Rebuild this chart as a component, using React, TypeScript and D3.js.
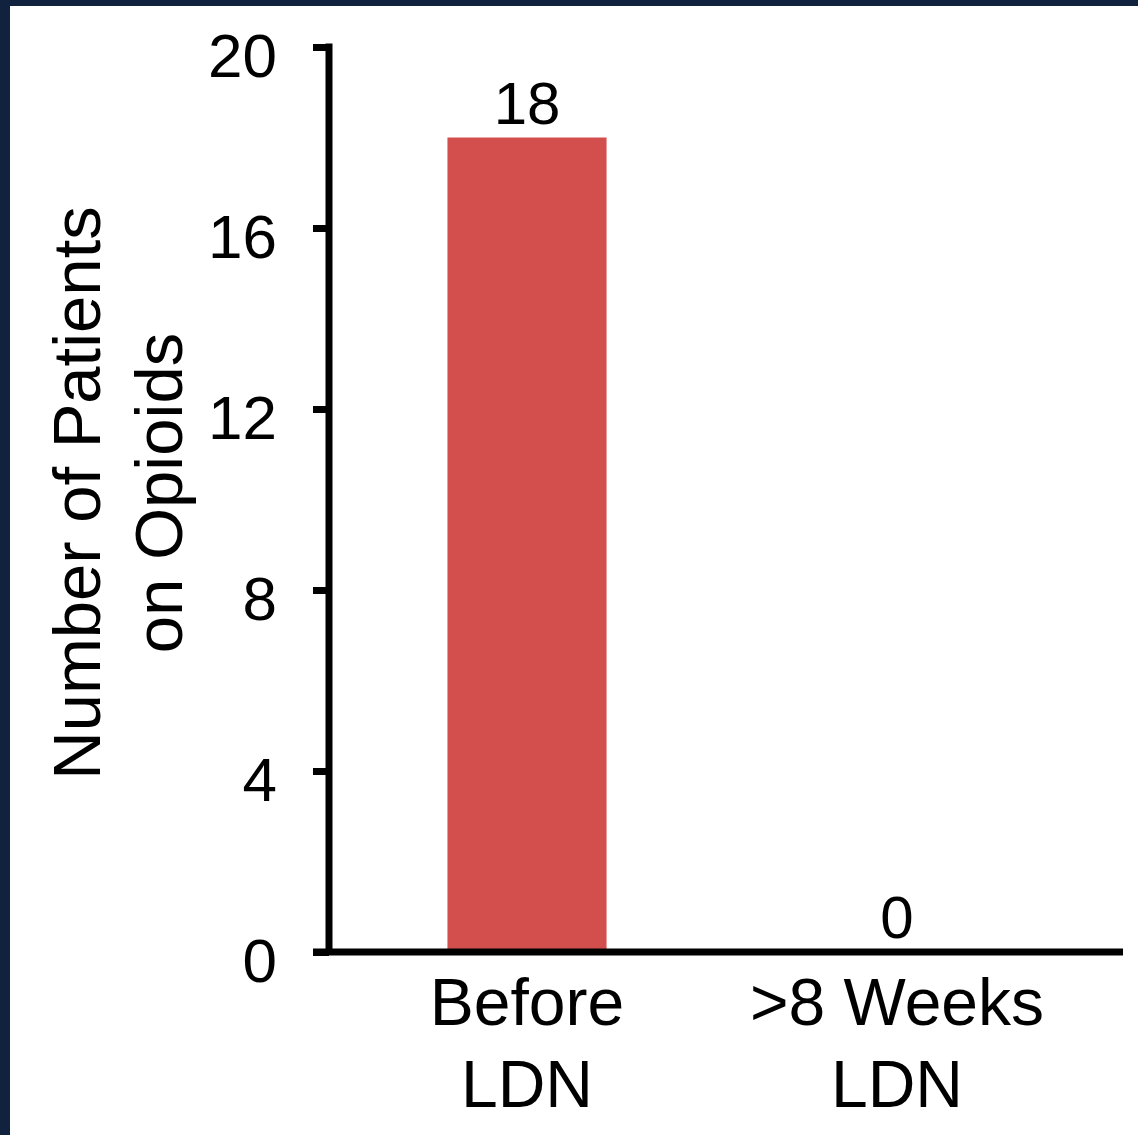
import { useEffect, useRef } from 'react';
import * as d3 from 'd3';

const categories = [['Before', 'LDN'], ['>8 Weeks', 'LDN']];
const values = [18, 0];
const yTicks = [0, 4, 8, 12, 16, 20];
const yTitle = ['Number of Patients', 'on Opioids'];

export default function App() {
  const svgRef = useRef<SVGSVGElement>(null);

  useEffect(() => {
    document.body.style.margin = '0';
    if (!svgRef.current) return;

    const width = 1138;
    const height = 1135;
    const font = 'Liberation Sans, Arial, Helvetica, sans-serif';

    const svg = d3.select(svgRef.current);
    svg.selectAll('*').remove();
    svg.attr('width', width).attr('height', height).style('display', 'block');

    // navy frame on top and left, white panel
    svg.append('rect').attr('width', width).attr('height', height).attr('fill', '#10223e');
    svg.append('rect').attr('x', 10).attr('y', 6).attr('width', width - 10).attr('height', height - 6).attr('fill', '#fff');

    const axisX = 329;
    const axisRight = 1123;

    const y = d3.scaleLinear().domain([0, 20]).range([952, 47]);
    const x = d3
      .scaleBand<number>()
      .domain(values.map((_, i) => i))
      .range([342, 1082])
      .paddingInner(0.57)
      .paddingOuter(0.285);

    const g = svg.append('g').style('font-family', font);

    // bars
    g.selectAll('.bar')
      .data(values)
      .join('rect')
      .attr('class', 'bar')
      .attr('fill', '#d34f4d')
      .attr('x', (_, i) => x(i)!)
      .attr('y', (d) => y(d))
      .attr('width', x.bandwidth())
      .attr('height', (d) => y(0) - y(d));

    // value labels
    g.selectAll('.val')
      .data(values)
      .join('text')
      .attr('class', 'val')
      .attr('x', (_, i) => x(i)! + x.bandwidth() / 2)
      .attr('y', (d) => y(d) - 14)
      .attr('text-anchor', 'middle')
      .attr('font-size', 60)
      .attr('fill', '#000')
      .text((d) => d);

    // y axis
    const yAxis = g
      .append('g')
      .attr('transform', `translate(${axisX},0)`)
      .call(d3.axisLeft(y).tickValues(yTicks).tickSize(16).tickSizeOuter(0).tickPadding(36));
    yAxis.select('.domain').remove();
    yAxis.selectAll('.tick line').attr('stroke', '#000').attr('stroke-width', 7);
    yAxis
      .selectAll('.tick text')
      .attr('font-size', 62)
      .attr('font-family', font)
      .attr('fill', '#000')
      .attr('dy', '0.47em');
    g.append('line')
      .attr('x1', axisX)
      .attr('x2', axisX)
      .attr('y1', y(20) - 3.5)
      .attr('y2', y(0))
      .attr('stroke', '#000')
      .attr('stroke-width', 7);

    // x axis baseline
    g.append('line')
      .attr('x1', axisX - 16)
      .attr('x2', axisRight)
      .attr('y1', y(0))
      .attr('y2', y(0))
      .attr('stroke', '#000')
      .attr('stroke-width', 7);

    // category labels
    categories.forEach((lines, i) => {
      const t = g
        .append('text')
        .attr('x', x(i)! + x.bandwidth() / 2)
        .attr('y', 1025)
        .attr('text-anchor', 'middle')
        .attr('font-size', 66)
        .attr('fill', '#000');
      lines.forEach((l, j) => {
        t.append('tspan')
          .attr('x', x(i)! + x.bandwidth() / 2)
          .attr('dy', j === 0 ? 0 : 82)
          .text(l);
      });
    });

    // y title
    const title = g
      .append('text')
      .attr('transform', 'translate(100,493) rotate(-90)')
      .attr('text-anchor', 'middle')
      .attr('font-size', 67)
      .attr('fill', '#000');
    yTitle.forEach((l, j) => {
      title.append('tspan').attr('x', 0).attr('dy', j === 0 ? 0 : 82).text(l);
    });
  }, []);

  return <svg ref={svgRef} />;
}
